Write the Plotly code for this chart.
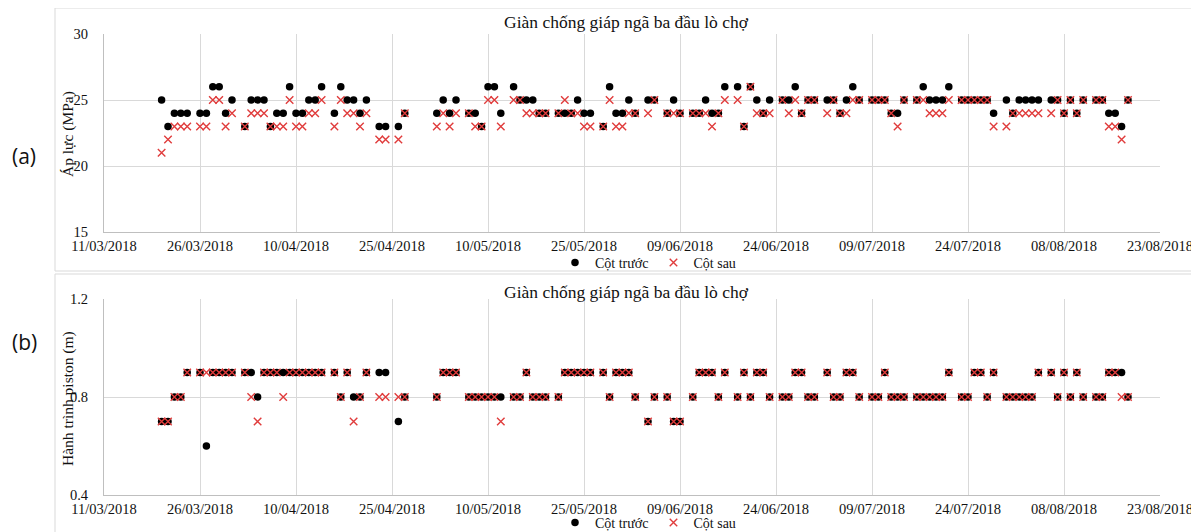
import pandas as pd
import plotly.graph_objects as go

# ---------------- data ----------------
start_date = "2018-03-11"
day_offsets = [9, 10, 11, 12, 13,
               15, 16, 17, 18, 19, 20,
               22, 23, 24, 25, 26, 27, 28, 29, 30, 31, 32, 33, 34,
               36, 37, 38, 39, 40, 41,
               43, 44,
               46, 47,
               52, 53, 54, 55,
               57, 58, 59, 60, 61, 62,
               64, 65, 66, 67, 68, 69,
               71, 72, 73, 74, 75, 76,
               78, 79, 80, 81, 82, 83,
               85, 86,
               88, 89, 90,
               92, 93, 94, 95, 96, 97,
               99, 100, 101, 102, 103, 104,
               106, 107, 108, 109, 110, 111,
               113, 114, 115, 116, 117, 118,
               120, 121, 122, 123, 124, 125,
               127, 128, 129, 130, 131, 132,
               134, 135, 136, 137, 138, 139,
               141, 142, 143, 144, 145, 146,
               148, 149, 150, 151, 152, 153,
               155, 156, 157, 158, 159, 160]

pressure_truoc = [25, 23, 24, 24, 24,
                  24, 24, 26, 26, 24, 25,
                  23, 25, 25, 25, 23, 24, 24, 26, 24, 24, 25, 25, 26,
                  24, 26, 25, 25, 24, 25,
                  23, 23,
                  23, 24,
                  24, 25, 24, 25,
                  24, 24, 23, 26, 26, 24,
                  26, 25, 25, 25, 24, 24,
                  24, 24, 24, 25, 24, 24,
                  23, 26, 24, 24, 25, 24,
                  25, 25,
                  24, 25, 24,
                  24, 24, 25, 24, 24, 26,
                  26, 23, 26, 25, 24, 25,
                  25, 25, 26, 24, 25, 25,
                  25, 25, 24, 25, 26, 25,
                  25, 25, 25, 24, 24, 25,
                  25, 26, 25, 25, 25, 26,
                  25, 25, 25, 25, 25, 24,
                  25, 24, 25, 25, 25, 25,
                  25, 25, 24, 25, 24, 25,
                  25, 25, 24, 24, 23, 25]

pressure_sau = [21, 22, 23, 23, 23,
                23, 23, 25, 25, 23, 24,
                23, 24, 24, 24, 23, 23, 23, 25, 23, 23, 24, 24, 25,
                23, 25, 24, 24, 23, 24,
                22, 22,
                22, 24,
                23, 24, 23, 24,
                24, 23, 23, 25, 25, 23,
                25, 25, 24, 24, 24, 24,
                24, 25, 24, 24, 23, 23,
                23, 25, 23, 23, 24, 24,
                24, 25,
                24, 24, 24,
                24, 24, 24, 23, 24, 25,
                25, 23, 26, 24, 24, 24,
                25, 24, 25, 24, 25, 25,
                24, 25, 24, 24, 25, 25,
                25, 25, 25, 24, 23, 25,
                25, 25, 24, 24, 24, 25,
                25, 25, 25, 25, 25, 23,
                23, 24, 24, 24, 24, 24,
                24, 25, 24, 25, 24, 25,
                25, 25, 23, 23, 22, 25]

stroke_truoc = [0.7, 0.7, 0.8, 0.8, 0.9,
                0.9, 0.6, 0.9, 0.9, 0.9, 0.9,
                0.9, 0.9, 0.8, 0.9, 0.9, 0.9, 0.9, 0.9, 0.9, 0.9, 0.9, 0.9, 0.9,
                0.9, 0.8, 0.9, 0.8, 0.8, 0.9,
                0.9, 0.9,
                0.7, 0.8,
                0.8, 0.9, 0.9, 0.9,
                0.8, 0.8, 0.8, 0.8, 0.8, 0.8,
                0.8, 0.8, 0.9, 0.8, 0.8, 0.8,
                0.8, 0.9, 0.9, 0.9, 0.9, 0.9,
                0.9, 0.8, 0.9, 0.9, 0.9, 0.8,
                0.7, 0.8,
                0.8, 0.7, 0.7,
                0.8, 0.9, 0.9, 0.9, 0.8, 0.9,
                0.8, 0.9, 0.8, 0.9, 0.9, 0.8,
                0.8, 0.8, 0.9, 0.9, 0.8, 0.8,
                0.9, 0.8, 0.8, 0.9, 0.9, 0.8,
                0.8, 0.8, 0.9, 0.8, 0.8, 0.8,
                0.8, 0.8, 0.8, 0.8, 0.8, 0.9,
                0.8, 0.8, 0.9, 0.9, 0.8, 0.9,
                0.8, 0.8, 0.8, 0.8, 0.8, 0.9,
                0.9, 0.8, 0.9, 0.8, 0.9, 0.8,
                0.8, 0.8, 0.9, 0.9, 0.9, 0.8]

stroke_sau = [0.7, 0.7, 0.8, 0.8, 0.9,
              0.9, 0.9, 0.9, 0.9, 0.9, 0.9,
              0.9, 0.8, 0.7, 0.9, 0.9, 0.9, 0.8, 0.9, 0.9, 0.9, 0.9, 0.9, 0.9,
              0.9, 0.8, 0.9, 0.7, 0.8, 0.9,
              0.8, 0.8,
              0.8, 0.8,
              0.8, 0.9, 0.9, 0.9,
              0.8, 0.8, 0.8, 0.8, 0.8, 0.7,
              0.8, 0.8, 0.9, 0.8, 0.8, 0.8,
              0.8, 0.9, 0.9, 0.9, 0.9, 0.9,
              0.9, 0.8, 0.9, 0.9, 0.9, 0.8,
              0.7, 0.8,
              0.8, 0.7, 0.7,
              0.8, 0.9, 0.9, 0.9, 0.8, 0.9,
              0.8, 0.9, 0.8, 0.9, 0.9, 0.8,
              0.8, 0.8, 0.9, 0.9, 0.8, 0.8,
              0.9, 0.8, 0.8, 0.9, 0.9, 0.8,
              0.8, 0.8, 0.9, 0.8, 0.8, 0.8,
              0.8, 0.8, 0.8, 0.8, 0.8, 0.9,
              0.8, 0.8, 0.9, 0.9, 0.8, 0.9,
              0.8, 0.8, 0.8, 0.8, 0.8, 0.9,
              0.9, 0.8, 0.9, 0.8, 0.9, 0.8,
              0.8, 0.8, 0.9, 0.9, 0.8, 0.8]

chart_title = "Giàn chống giáp ngã ba đầu lò chợ"
name_truoc = "Cột trước"
name_sau = "Cột sau"
ytitle_top = "Áp lực (MPa)"
ytitle_bottom = "Hành trình piston (m)"
x_range = ["2018-03-11", "2018-08-23"]
tick_step_days = 15

# ---------------- figure ----------------
dates = pd.to_datetime(start_date) + pd.to_timedelta(day_offsets, unit="D")

SERIF = "Liberation Serif, Times New Roman, serif"
RED = "rgb(224,60,60)"
GRID = "#d9d9d9"
TXT = "#111"

fig = go.Figure()

def add_pair(yvals_t, yvals_s, xa, ya, legend):
    fig.add_trace(go.Scatter(x=dates, y=yvals_t, mode="markers", name=name_truoc,
                             marker=dict(symbol="circle", size=7.5, color="black"),
                             xaxis=xa, yaxis=ya, legend=legend))
    fig.add_trace(go.Scatter(x=dates, y=yvals_s, mode="markers", name=name_sau,
                             marker=dict(symbol="x-thin", size=7.5, color=RED,
                                         line=dict(color=RED, width=1.4)),
                             xaxis=xa, yaxis=ya, legend=legend))

add_pair(pressure_truoc, pressure_sau, "x", "y", "legend")
add_pair(stroke_truoc, stroke_sau, "x2", "y2", "legend2")

xaxis_common = dict(type="date", range=x_range, tick0=x_range[0],
                    dtick=tick_step_days * 86400000, tickformat="%d/%m/%Y",
                    showgrid=True, gridcolor=GRID, gridwidth=1,
                    showline=True, linecolor="#bfbfbf", linewidth=1,
                    ticks="", zeroline=False, ticklabelstandoff=1,
                    tickfont=dict(family=SERIF, size=14.5, color=TXT))
yaxis_common = dict(showgrid=True, gridcolor=GRID, gridwidth=1,
                    showline=True, linecolor="#bfbfbf", linewidth=1,
                    ticks="", zeroline=False, ticklabelstandoff=12,
                    tickfont=dict(family=SERIF, size=14.5, color=TXT))

# The page body has an 8px margin, so the figure is placed at (8, 8) in the
# browser window; layout below targets window pixel positions.
OFF = 8
FIG_W, FIG_H = 1199 - OFF, 532 - OFF
PLOT_L, PLOT_R, PLOT_T, PLOT_B = 104, 1160, 34, 495   # window pixels

top_dom = [(PLOT_B - 232) / (PLOT_B - PLOT_T), 1.0]
bot_dom = [0.0, (PLOT_B - 299) / (PLOT_B - PLOT_T)]

fig.update_layout(
    width=FIG_W, height=FIG_H,
    margin=dict(l=PLOT_L - OFF, r=FIG_W - (PLOT_R - OFF), t=PLOT_T - OFF,
                b=FIG_H - (PLOT_B - OFF), autoexpand=False),
    paper_bgcolor="white", plot_bgcolor="white",
    showlegend=True,
    xaxis=dict(**xaxis_common, domain=[0, 1], anchor="y"),
    yaxis=dict(**yaxis_common, domain=top_dom, range=[15, 30], dtick=5, anchor="x"),
    xaxis2=dict(**xaxis_common, domain=[0, 1], anchor="y2"),
    yaxis2=dict(**yaxis_common, domain=bot_dom, range=[0.4, 1.2], dtick=0.4,
                tickformat=".1f", anchor="x2"),
)

def py(p):
    return (PLOT_B - p) / (PLOT_B - PLOT_T)

def px(p):
    return (p - PLOT_L) / (PLOT_R - PLOT_L)

legend_common = dict(orientation="h", xanchor="center", yanchor="middle",
                     font=dict(family=SERIF, size=14, color=TXT),
                     itemwidth=30, bgcolor="rgba(0,0,0,0)", tracegroupgap=0)
fig.update_layout(
    legend=dict(**legend_common, x=px(648), y=py(263)),
    legend2=dict(**legend_common, x=px(648), y=py(523)),
)

# titles
for ycen in (22, 292):
    fig.add_annotation(text=chart_title, xref="paper", yref="paper",
                       x=px(626), y=py(ycen), showarrow=False,
                       xanchor="center", yanchor="middle",
                       font=dict(family=SERIF, size=17.5, color=TXT))

# y-axis titles
fig.add_annotation(text=ytitle_top, xref="paper", yref="paper",
                   x=px(68), y=py(134), showarrow=False, textangle=-90,
                   xanchor="center", yanchor="middle",
                   font=dict(family=SERIF, size=15.5, color=TXT))
fig.add_annotation(text=ytitle_bottom, xref="paper", yref="paper",
                   x=px(68), y=py(399), showarrow=False, textangle=-90,
                   xanchor="center", yanchor="middle",
                   font=dict(family=SERIF, size=15.5, color=TXT))

# panel labels
for lab, ycen in (("(a)", 156), ("(b)", 342)):
    fig.add_annotation(text=lab, xref="paper", yref="paper",
                       x=px(24), y=py(ycen), showarrow=False,
                       xanchor="center", yanchor="middle",
                       font=dict(family="Open Sans, Noto Sans, sans-serif", size=21, color=TXT))

# outer chart frames
fig.add_shape(type="rect", xref="paper", yref="paper",
              x0=px(55), x1=px(1193), y0=py(271), y1=py(8),
              line=dict(color="#d9d9d9", width=1), layer="below")
fig.add_shape(type="rect", xref="paper", yref="paper",
              x0=px(55), x1=px(1193), y0=py(545), y1=py(274),
              line=dict(color="#d9d9d9", width=1), layer="below")

fig.write_html("out.html")
